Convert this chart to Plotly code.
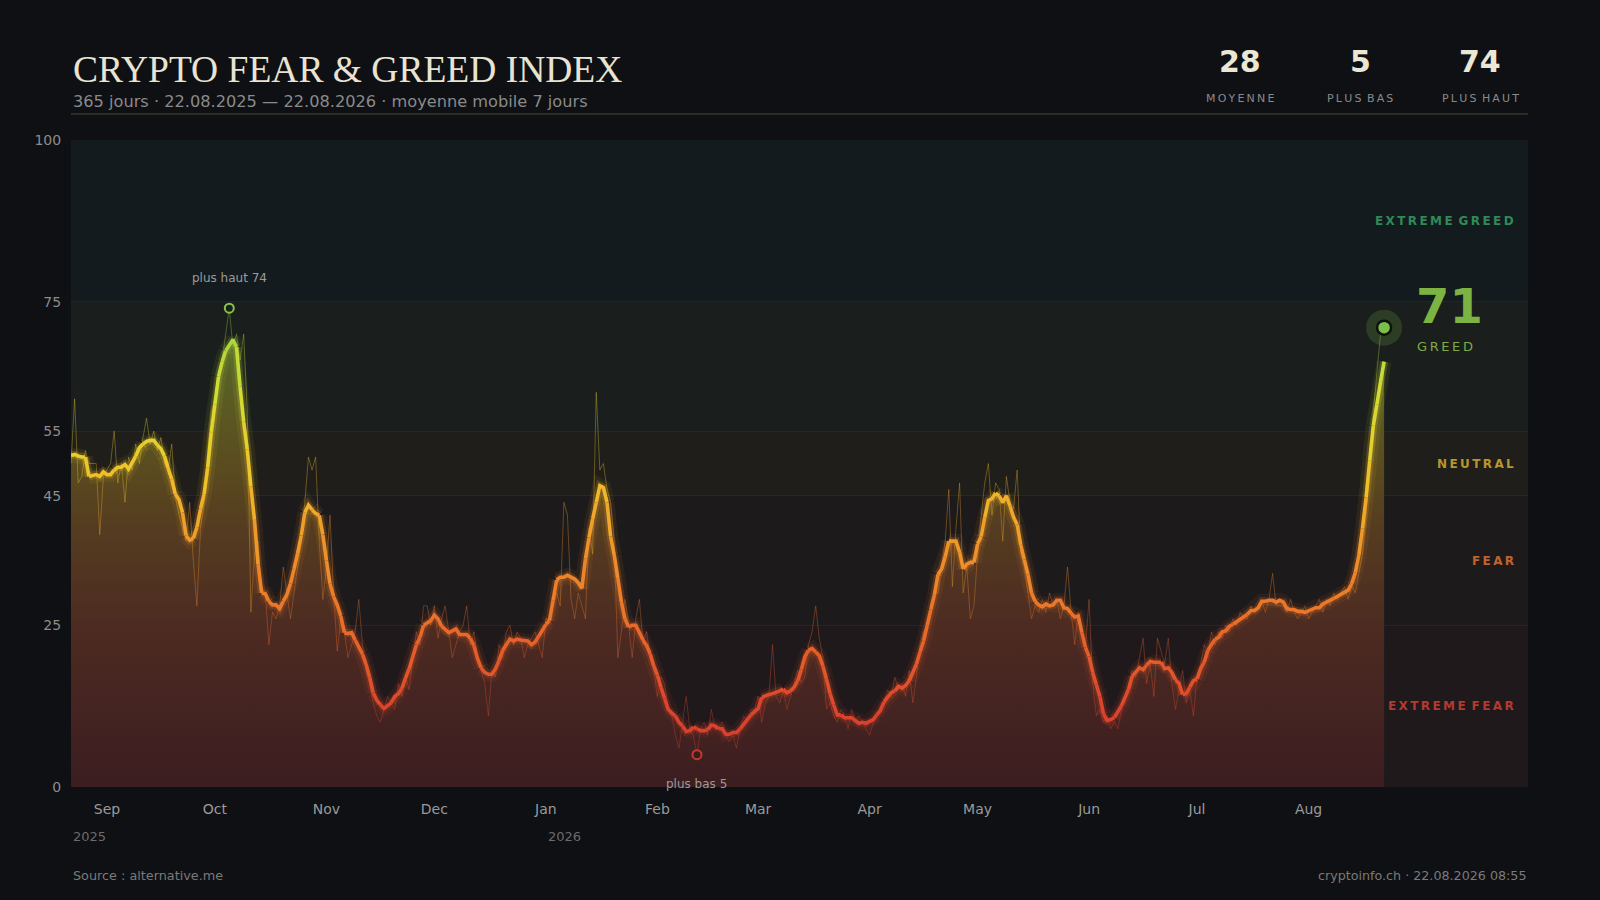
import numpy as np
import pandas as pd
import plotly.graph_objects as go

# ---------------- data ----------------
START_DATE = "2025-08-22"
DAILY = [
    50, 60, 47, 48, 52, 50, 50, 50, 39, 48,
    49, 50, 55, 47, 50, 44, 51, 49, 53, 50,
    54, 57, 53, 55, 52, 54, 50, 49, 53, 45,
    42, 40, 38, 44, 35, 28, 40, 44, 52, 58,
    60, 64, 66, 70, 74, 68, 70, 66, 70, 58,
    27, 36, 38, 30, 30, 22, 27, 26, 28, 34,
    30, 26, 30, 34, 38, 44, 51, 49, 51, 38,
    29, 34, 42, 30, 21, 26, 24, 20, 22, 24,
    29, 22, 18, 16, 13, 11, 10, 12, 14, 13,
    12, 16, 14, 17, 15, 20, 24, 22, 28, 28,
    25, 28, 23, 26, 28, 24, 20, 22, 24, 25,
    28, 22, 24, 20, 18, 16, 11, 18, 17, 22,
    20, 24, 25, 22, 24, 23, 20, 22, 23, 24,
    22, 20, 26, 26, 28, 30, 28, 44, 42, 29,
    26, 30, 28, 26, 40, 36, 61, 49, 50, 46,
    44, 38, 20, 24, 29, 25, 20, 26, 29, 22,
    24, 20, 18, 14, 17, 16, 12, 11, 8, 6,
    10, 14, 9, 8, 5, 9, 10, 8, 12, 9,
    9, 10, 8, 7, 8, 6, 9, 11, 10, 12,
    12, 14, 10, 13, 14, 22, 14, 13, 15, 12,
    14, 16, 18, 16, 17, 22, 24, 28, 23, 20,
    12, 13, 11, 10, 12, 11, 9, 12, 10, 11,
    10, 9, 8, 10, 11, 12, 13, 15, 14, 17,
    15, 16, 14, 18, 13, 17, 22, 24, 25, 27,
    30, 30, 34, 38, 46, 31, 40, 47, 30, 34,
    26, 28, 36, 42, 47, 50, 42, 47, 46, 38,
    48, 44, 43, 49, 36, 34, 30, 26, 28, 27,
    29, 27, 30, 28, 29, 26, 28, 34, 27, 22,
    27, 24, 22, 29, 16, 11, 12, 10, 11, 9,
    10, 9, 12, 14, 16, 18, 17, 20, 23, 16,
    19, 14, 23, 21, 19, 23, 16, 12, 15, 18,
    13, 15, 11, 17, 19, 22, 20, 24, 22, 24,
    23, 25, 24, 26, 25, 27, 26, 26, 28, 27,
    28, 29, 27, 29, 33, 28, 28, 28, 27, 29,
    27, 26, 27, 28, 26, 27, 28, 29, 27, 29,
    28, 30, 29, 30, 31, 29, 31, 30, 33, 36,
    42, 50, 58, 64, 70, 71,
]
MA_WINDOW = 7

MONTH_TICKS = ["2025-09-01", "2025-10-01", "2025-11-01", "2025-12-01",
               "2026-01-01", "2026-02-01", "2026-03-01", "2026-04-01",
               "2026-05-01", "2026-06-01", "2026-07-01", "2026-08-01"]
MONTH_LABELS = ["Sep", "Oct", "Nov", "Dec", "Jan", "Feb",
                "Mar", "Apr", "May", "Jun", "Jul", "Aug"]
YEAR_MARKS = ["2025-08-22", "2026-01-01"]
YEAR_LABELS = ["2025", "2026"]
X_END = "2026-10-01"

Y_TICKS = [0, 25, 45, 55, 75, 100]
ZONE_EDGES = [0, 25, 45, 55, 75, 100]
ZONE_NAMES = ["EXTREME FEAR", "FEAR", "NEUTRAL", "GREED", "EXTREME GREED"]
ZONE_BG = ["#1f191c", "#1d1a1c", "#1f1e1a", "#1a1f1d", "#131b1e"]
ZONE_TXT = ["#b33a2f", "#c2622c", "#b8962c", "#7cb342", "#2f8a58"]

TITLE = "CRYPTO FEAR & GREED INDEX"
SUBTITLE = "365 jours · 22.08.2025 — 22.08.2026 · moyenne mobile 7 jours"
STAT_LABELS = ["MOYENNE", "PLUS BAS", "PLUS HAUT"]
SOURCE = "Source : alternative.me"
STAMP = "cryptoinfo.ch · 22.08.2026 08:55"

# ---------------- styling ----------------
W, H = 1600, 900
L, R, T, B = 71, 72, 140, 113
PW, PH = W - L - R, H - T - B
BG = "#0e1014"
SANS = "DejaVu Sans"

LINE_SCALE = [(0.00, "#d23a2c"), (0.12, "#dc442c"), (0.22, "#e6622a"),
              (0.30, "#ec7e2a"), (0.40, "#f09e2a"), (0.47, "#f0bc2a"),
              (0.53, "#e8d02c"), (0.62, "#cfdc34"), (0.70, "#a6d23e"),
              (0.80, "#7ec24c"), (1.00, "#4caf6a")]
FILL_SCALE = [[0.0, "#3c1d20"], [0.25, "#4d2b22"], [0.40, "#553c20"],
              [0.50, "#5a4c1f"], [0.60, "#5a5c24"], [0.70, "#52672c"],
              [1.0, "#3f6a44"]]


def px_x(x):
    return (x - L) / PW


def px_y(y):
    return (H - B - y) / PH


def hex_rgb(h):
    h = h.lstrip("#")
    return tuple(int(h[i:i + 2], 16) for i in (0, 2, 4))


def scale_color(t, alpha):
    t = min(max(t, 0.0), 1.0)
    for (p0, c0), (p1, c1) in zip(LINE_SCALE[:-1], LINE_SCALE[1:]):
        if p0 <= t <= p1:
            f = 0 if p1 == p0 else (t - p0) / (p1 - p0)
            a, b = hex_rgb(c0), hex_rgb(c1)
            rgb = [round(a[k] + (b[k] - a[k]) * f) for k in range(3)]
            return f"rgba({rgb[0]},{rgb[1]},{rgb[2]},{alpha})"
    r, g, b = hex_rgb(LINE_SCALE[-1][1])
    return f"rgba({r},{g},{b},{alpha})"


def spaced(s, gap="\u2009"):
    return "\u2002".join(gap.join(w) for w in s.split(" "))


def add_segmented(fig, xs, ys, width, alpha, step):
    n = len(ys)
    bins = [round(((ys[i] + ys[i + 1]) / 2) / step) for i in range(n - 1)]
    i = 0
    while i < n - 1:
        j = i
        while j + 1 < n - 1 and bins[j + 1] == bins[i]:
            j += 1
        color = scale_color(bins[i] * step / 100.0, alpha)
        fig.add_trace(go.Scatter(
            x=xs[i:j + 2], y=ys[i:j + 2], mode="lines",
            line=dict(color=color, width=width),
            hoverinfo="skip", showlegend=False))
        i = j + 1


# ---------------- derived ----------------
dates = pd.date_range(START_DATE, periods=len(DAILY), freq="D")
xs = [d.strftime("%Y-%m-%d") for d in dates]
daily = np.array(DAILY, dtype=float)
ma = pd.Series(daily).rolling(MA_WINDOW, center=True, min_periods=1).mean().to_numpy()

avg_v = int(round(daily.mean()))
i_min = int(np.argmin(daily))
i_max = int(np.argmax(daily))
last_v = int(daily[-1])
zone_idx = max(k for k in range(5) if last_v >= ZONE_EDGES[k])

fig = go.Figure()

# zone bands
for k in range(5):
    fig.add_shape(type="rect", xref="paper", yref="y", x0=0, x1=1,
                  y0=ZONE_EDGES[k], y1=ZONE_EDGES[k + 1],
                  fillcolor=ZONE_BG[k], line=dict(width=0), layer="below")

# gradient area under moving average
fig.add_trace(go.Scatter(
    x=xs, y=ma, mode="lines", fill="tozeroy",
    line=dict(width=0, color="rgba(0,0,0,0)"),
    fillgradient=dict(type="vertical", start=0, stop=100, colorscale=FILL_SCALE),
    hoverinfo="skip", showlegend=False))

# raw daily line (thin, faint)
add_segmented(fig, xs, list(daily), 1.0, 0.36, 4)

# moving average: glow + core
add_segmented(fig, xs, list(ma), 15, 0.08, 2)
add_segmented(fig, xs, list(ma), 8, 0.20, 2)
add_segmented(fig, xs, list(ma), 3.6, 1.0, 2)

# max / min markers
fig.add_trace(go.Scatter(
    x=[xs[i_max]], y=[daily[i_max]], mode="markers",
    marker=dict(size=9, color="#1a1f1d", line=dict(color="#8bc34a", width=2)),
    hoverinfo="skip", showlegend=False))
fig.add_trace(go.Scatter(
    x=[xs[i_min]], y=[daily[i_min]], mode="markers",
    marker=dict(size=9, color="#3a1c1f", line=dict(color="#c43a2e", width=2)),
    hoverinfo="skip", showlegend=False))

# current value marker
fig.add_trace(go.Scatter(
    x=[xs[-1]], y=[last_v], mode="markers",
    marker=dict(size=36, color="rgba(124,179,66,0.20)", line=dict(width=0)),
    hoverinfo="skip", showlegend=False))
fig.add_trace(go.Scatter(
    x=[xs[-1]], y=[last_v], mode="markers",
    marker=dict(size=14, color="#7cbf48", line=dict(color="#0e1210", width=2.5)),
    hoverinfo="skip", showlegend=False))

ann = []
# point labels
ann.append(dict(x=xs[i_max], y=daily[i_max], xref="x", yref="y",
                text=f"plus haut {int(daily[i_max])}", showarrow=False,
                yshift=30, font=dict(family=SANS, size=12, color="#9b9b9b")))
ann.append(dict(x=xs[i_min], y=daily[i_min], xref="x", yref="y",
                text=f"plus bas {int(daily[i_min])}", showarrow=False,
                yshift=-29, font=dict(family=SANS, size=12, color="#9b9b9b")))
# current value callout
ann.append(dict(x=xs[-1], y=last_v, xref="x", yref="y", text=f"<b>{last_v}</b>",
                showarrow=False, xanchor="left", yanchor="middle",
                xshift=30, yshift=22,
                font=dict(family=SANS, size=48, color="#7cb342")))
ann.append(dict(x=xs[-1], y=last_v, xref="x", yref="y",
                text=spaced(ZONE_NAMES[zone_idx]),
                showarrow=False, xanchor="left", yanchor="middle",
                xshift=31, yshift=-19,
                font=dict(family=SANS, size=13, color="#82a848")))
# zone labels
for k in range(5):
    if k == zone_idx:
        continue
    ann.append(dict(x=1, y=(ZONE_EDGES[k] + ZONE_EDGES[k + 1]) / 2,
                    xref="paper", yref="y", xanchor="right", yanchor="middle",
                    xshift=-12, showarrow=False,
                    text="<b>" + spaced(ZONE_NAMES[k]) + "</b>",
                    font=dict(family=SANS, size=12, color=ZONE_TXT[k])))
# year labels
for xv, lab in zip(YEAR_MARKS, YEAR_LABELS):
    ann.append(dict(x=xv, y=px_y(836), xref="x", yref="paper",
                    xanchor="left", yanchor="middle", showarrow=False,
                    text=lab, font=dict(family=SANS, size=13, color="#6b6b6b")))
# header
ann.append(dict(x=0, y=px_y(69), xref="paper", yref="paper", xanchor="left",
                yanchor="middle", showarrow=False, text=TITLE,
                font=dict(family="Liberation Serif", size=37.5, color="#e9e3d1")))
ann.append(dict(x=0, y=px_y(101), xref="paper", yref="paper", xanchor="left",
                yanchor="middle", showarrow=False, text=SUBTITLE,
                font=dict(family=SANS, size=16.2, color="#8a8a8a")))
stat_vals = [avg_v, int(daily[i_min]), int(daily[i_max])]
stat_x = [1240, 1360, 1480]
for xv, v, lab in zip(stat_x, stat_vals, STAT_LABELS):
    ann.append(dict(x=px_x(xv), y=px_y(62), xref="paper", yref="paper",
                    xanchor="center", yanchor="middle", showarrow=False,
                    text=f"<b>{v}</b>",
                    font=dict(family=SANS, size=30, color="#ece6d4")))
    ann.append(dict(x=px_x(xv), y=px_y(98), xref="paper", yref="paper",
                    xanchor="center", yanchor="middle", showarrow=False,
                    text=spaced(lab),
                    font=dict(family=SANS, size=11, color="#8a8a8a")))
# footer
ann.append(dict(x=0, y=px_y(875), xref="paper", yref="paper", xanchor="left",
                yanchor="middle", showarrow=False, text=SOURCE,
                font=dict(family=SANS, size=12.8, color="#7a7a7a")))
ann.append(dict(x=1, y=px_y(875), xref="paper", yref="paper", xanchor="right",
                yanchor="middle", showarrow=False, text=STAMP,
                font=dict(family=SANS, size=12.7, color="#7a7a7a")))

fig.add_shape(type="line", xref="paper", yref="paper", x0=0, x1=1,
              y0=px_y(114), y1=px_y(114), line=dict(color="#3a3526", width=1.5))

fig.update_layout(
    width=W, height=H,
    margin=dict(l=L, r=R, t=T, b=B, pad=0),
    paper_bgcolor=BG, plot_bgcolor=BG,
    showlegend=False, hovermode=False,
    annotations=ann,
    xaxis=dict(type="date", range=[START_DATE, X_END],
               tickvals=MONTH_TICKS, ticktext=MONTH_LABELS,
               showgrid=False, zeroline=False, showline=False,
               ticks="outside", ticklen=9, tickcolor="rgba(0,0,0,0)",
               tickfont=dict(family=SANS, size=14, color="#9a9a9a"),
               fixedrange=True),
    yaxis=dict(range=[0, 100], tickvals=Y_TICKS,
               showgrid=True, gridcolor="rgba(255,255,255,0.06)", gridwidth=1,
               zeroline=False, showline=False,
               ticks="outside", ticklen=6, tickcolor="rgba(0,0,0,0)",
               tickfont=dict(family=SANS, size=14, color="#8c8c8c"),
               fixedrange=True),
)

PAGE_JS = ("document.body.style.margin='0';"
           "document.body.style.padding='0';"
           "document.body.style.overflow='hidden';"
           "document.body.style.background='" + BG + "';")

fig.write_html("out.html", post_script=PAGE_JS,
               config={"displayModeBar": False, "staticPlot": True})
